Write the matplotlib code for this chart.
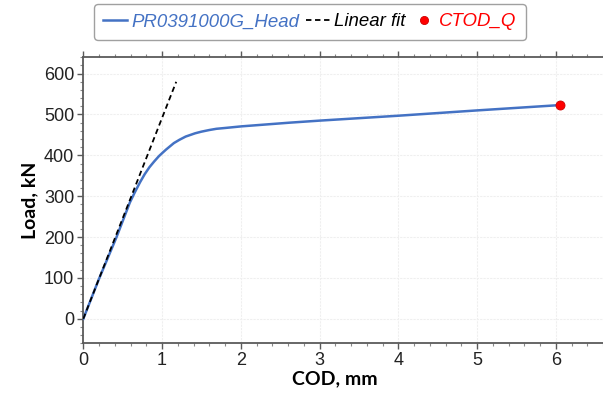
import matplotlib
matplotlib.use("Agg")
import matplotlib.pyplot as plt
from matplotlib.ticker import MultipleLocator

# Data
cod_mm = [0.0, 0.20, 0.42, 0.59, 0.65, 0.72, 0.78, 0.84, 0.90, 0.96, 1.01, 1.05,
          1.10, 1.15, 1.22, 1.30, 1.42, 1.50, 1.60, 1.69, 1.80, 2.01, 2.62, 3.00,
          4.00, 5.00, 6.05]
load_kN = [0, 98, 199, 284, 308, 334, 354, 371, 385, 398, 407, 414,
           422, 430, 438, 446, 454, 458, 462, 465, 467, 471, 480, 485,
           497, 510, 523]

fit_x = [0.0, 1.18]
fit_y = [0, 580]

ctod_x = [6.05]
ctod_y = [523]

x_ticks = [0, 1, 2, 3, 4, 5, 6]
y_ticks = [0, 100, 200, 300, 400, 500, 600]

series_name = "PR0391000G_Head"
fit_name = "Linear fit"
ctod_name = "CTOD_Q"

plt.rcParams['font.family'] = ['Liberation Sans', 'DejaVu Sans']

fig = plt.figure(figsize=(6.03, 3.94), dpi=100)
ax = fig.add_axes([83.3/603, 1-343.3/394, 1-83.3/603, (343.3-57.3)/394])

blue = '#4472C4'
ax.plot(cod_mm, load_kN, color=blue, lw=1.8, label=series_name, zorder=3,
        solid_joinstyle='round')
ax.plot(fit_x, fit_y, color='black', lw=1.3, ls=(0, (3, 2)), label=fit_name, zorder=4)
ax.plot(ctod_x, ctod_y, 'o', color='#ff0000', ms=6.5, mec='#cc0000', mew=0.6,
        label=ctod_name, zorder=5, clip_on=False)

ax.set_xlim(0, 6.6)
ax.set_ylim(-60, 640)
ax.set_xticks(x_ticks)
ax.set_yticks(y_ticks)
ax.xaxis.set_minor_locator(MultipleLocator(0.2))
ax.yaxis.set_minor_locator(MultipleLocator(20))

ax.grid(True, which='major', color='#efefef', lw=0.8, ls=(0, (2, 1)))
ax.set_axisbelow(True)

spine_col = '#5a5a5a'
for s in ['left', 'bottom', 'top']:
    ax.spines[s].set_color(spine_col)
    ax.spines[s].set_linewidth(1.3)
ax.spines['right'].set_visible(False)

ax.tick_params(axis='both', which='major', direction='out', length=4, width=1,
               color=spine_col, labelsize=13, labelcolor='#222222', pad=2.5)
ax.tick_params(axis='both', which='minor', direction='out', length=2, width=0.8,
               color='#888888')
ax.tick_params(axis='x', which='both', top=True, labeltop=False)

ax.set_xlabel('COD, mm', fontsize=14, fontweight='bold', family=['Lato', 'DejaVu Sans'],
              labelpad=1)
ax.xaxis.label.set_x((335 - 83.3) / (603 - 83.3))
ax.set_ylabel('Load, kN', fontsize=14, fontweight='bold', family=['Lato', 'DejaVu Sans'],
              labelpad=4)

leg = fig.legend(loc='upper center', bbox_to_anchor=(310/603, 1-4/394), ncol=3,
                 frameon=True, fancybox=True, edgecolor='#888888',
                 prop={'style': 'italic', 'size': 13.4},
                 handlelength=1.3, handletextpad=0.2, columnspacing=0.35,
                 borderpad=0.5, borderaxespad=0, markerscale=0.9)
leg.get_frame().set_linewidth(1.0)
for txt, col in zip(leg.get_texts(), [blue, 'black', '#ff0000']):
    txt.set_color(col)

fig.savefig('out.png', dpi=100)
